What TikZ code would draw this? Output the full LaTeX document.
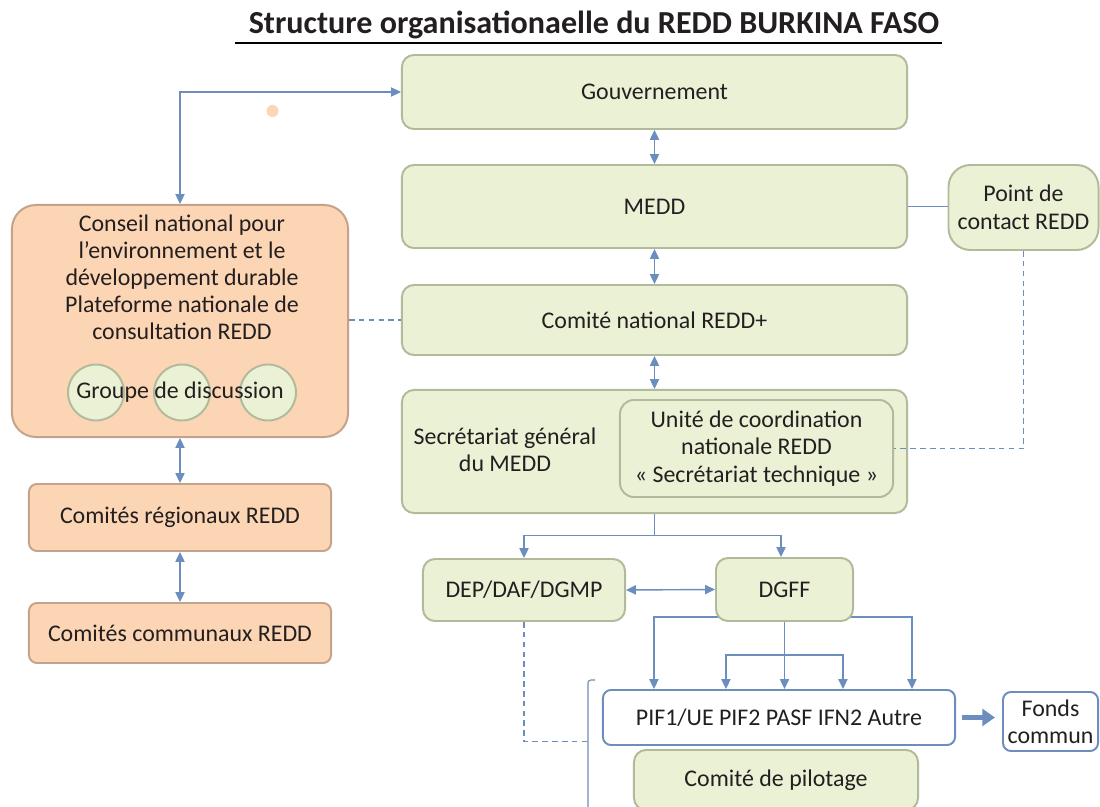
\documentclass[tikz,border=0pt]{standalone}
\usepackage{fontspec}
\setmainfont{Carlito}
\usepackage{xcolor}
\usetikzlibrary{arrows.meta, backgrounds}

\definecolor{vertfond}{HTML}{EBF1D4}
\definecolor{vertbord}{HTML}{B2BA9C}
\definecolor{saumon}{HTML}{FCD5B4}
\definecolor{saumonbord}{HTML}{C5A38A}
\definecolor{bleu}{HTML}{6C8EBF}
\definecolor{texte}{HTML}{231F20}

\tikzset{
  boite/.style={draw=vertbord, fill=vertfond, line width=1.4pt, rounded corners=0.3cm,
    align=center, text=texte, inner sep=0pt},
  boiteorange/.style={boite, draw=saumonbord, fill=saumon},
  boitebleue/.style={boite, draw=bleu, fill=white, rounded corners=0.2cm},
  lien/.style={draw=bleu, line width=1pt},
  pointille/.style={lien, dashed, dash pattern=on 4pt off 3pt, line width=0.8pt},
}

\begin{document}
\begin{tikzpicture}[x=0.025cm, y=-0.025cm, >={Triangle[length=7pt, width=6.5pt]},
  font=\fontsize{17}{19.5}\selectfont]

  \useasboundingbox (0,0) rectangle (1100,807);

  % Titre
  \node[text=texte, font=\fontsize{22.8}{26}\selectfont\bfseries] (titre) at (594,25)
    {Structure organisationaelle du REDD BURKINA FASO};
  \draw[line width=1.8pt] (235,43) -- (942,43);

  % Colonne centrale
  \node[boite, minimum width=12.625cm, minimum height=1.85cm] (gouv) at (654.5,92) {Gouvernement};
  \node[boite, minimum width=12.625cm, minimum height=2.075cm] (medd) at (654.5,206.5) {MEDD};
  \node[boite, minimum width=3.75cm, minimum height=2.125cm, rounded corners=0.55cm] (pdc) at (1023.5,207.5)
    {Point de\\contact REDD};
  \node[boite, minimum width=12.625cm, minimum height=1.75cm] (cnat) at (654.5,320) {Comité national REDD+};
  \node[boite, minimum width=12.625cm, minimum height=3.075cm] (sg) at (654.5,451.5) {};
  \node[text=texte, align=center] (sgtxt) at (505,450) {Secrétariat général\\du MEDD};
  \node[boite, minimum width=6.825cm, minimum height=2.425cm, rounded corners=0.35cm] (ucn) at (756.5,448.5)
    {Unité de coordination\\nationale REDD\\« Secrétariat technique »};
  \node[boite, minimum width=5.05cm, minimum height=1.55cm] (dep) at (524,590) {DEP/DAF/DGMP};
  \node[boite, minimum width=3.425cm, minimum height=1.575cm] (dgff) at (784.5,589.5) {DGFF};
  \node[boitebleue, minimum width=8.8cm, minimum height=1.375cm] (pif) at (779,717.5)
    {PIF1/UE PIF2 PASF IFN2 Autre};
  \node[boitebleue, minimum width=2.375cm, minimum height=1.475cm] (fonds) at (1050.5,721.5)
    {Fonds\\commun};
  \node[boite, minimum width=7.1cm, minimum height=1.5cm] (pilot) at (776,780) {Comité de pilotage};

  % Colonne de gauche
  \node[boiteorange, minimum width=8.4cm, minimum height=5.8cm, rounded corners=0.6cm] (conseil) at (180,321) {};
  \node[text=texte, align=center, font=\fontsize{17}{19.2}\selectfont] (cnt) at (182,277)
    {Conseil national pour\\l’environnement et le\\développement durable\\Plateforme nationale de\\consultation REDD};
  \foreach \cx/\nom in {96/ga, 182/gb, 268/gc}
    \node[circle, draw=vertbord, fill=vertfond, line width=1.4pt, minimum size=1.4cm] (\nom) at (\cx,392.5) {};
  \node[text=texte] (grp) at (180,392.5) {Groupe de discussion};
  \node[boiteorange, rounded corners=0.2cm, minimum width=7.55cm, minimum height=1.675cm] (reg) at (180,517.5)
    {Comités régionaux REDD};
  \node[boiteorange, rounded corners=0.2cm, minimum width=7.55cm, minimum height=1.5cm] (comm) at (180,633)
    {Comités communaux REDD};

  \fill[saumon] (272.5,111) circle (6);

  % Liaisons
  \draw[lien, <->] (conseil.north) |- (gouv.west);
  \draw[lien, <->] (gouv.south) -- (medd.north);
  \draw[lien, <->] (medd.south) -- (cnat.north);
  \draw[lien, <->] (cnat.south) -- (sg.north);
  \draw[lien] (medd.east) -- (medd.east -| pdc.west);
  \draw[pointille] (pdc.south) |- (ucn.east);
  \draw[pointille] (conseil.east |- cnat.west) -- (cnat.west);
  \draw[lien, <->] (conseil.south) -- (reg.north);
  \draw[lien, <->] (reg.south) -- (comm.north);

  \coordinate (fourche) at (654.5,535.5);
  \draw[lien] (sg.south) -- (fourche);
  \draw[lien, ->] (fourche) -| (dep.north);
  \draw[lien, ->] (fourche) -| ([shift={(-3.5,0)}]dgff.north);
  \draw[lien, <->] (dep.east) -- (dgff.west);

  \begin{scope}[on background layer]
    \coordinate (dgbas) at ([shift={(0,-5)}]dgff.south);
    \coordinate (milieu) at (785,655);
    \draw[lien, ->] (dgbas) -| ([shift={(52,0)}]pif.north west);
    \draw[lien, ->] (dgbas) -| ([shift={(310,0)}]pif.north west);
    \draw[lien, ->] (dgff.south) -- (dgff.south |- pif.north);
    \draw[lien, ->] (milieu) -| ([shift={(124,0)}]pif.north west);
    \draw[lien, ->] (milieu) -| ([shift={(241,0)}]pif.north west);
  \end{scope}

  \draw[draw=bleu, line width=3.5pt, -{Triangle[length=9pt, width=12pt]}, shorten <=4pt, shorten >=5pt]
    (pif.east) -- (fonds.west |- pif.east);

  % Accolade
  \coordinate (accol) at (588,741.5);
  \draw[draw=bleu!80!gray, line width=0.8pt, rounded corners=2pt] (595,680) -- (588,680) -- (588,815);
  \draw[pointille] (dep.south) |- (accol);

\end{tikzpicture}
\end{document}
